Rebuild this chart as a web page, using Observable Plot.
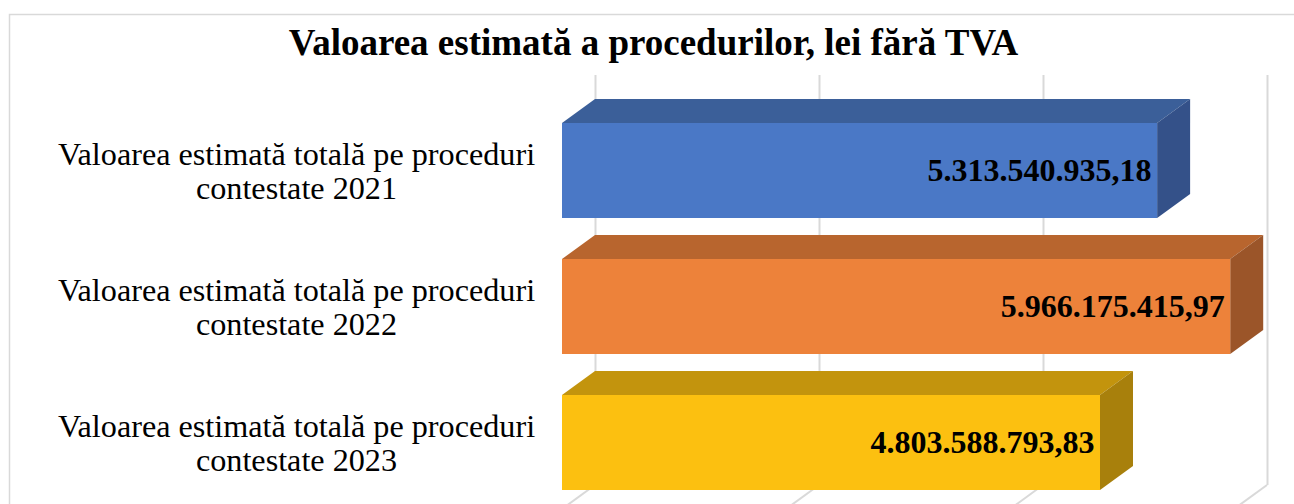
<!DOCTYPE html>
<html>
<head>
<meta charset="utf-8">
<script src="https://cdn.jsdelivr.net/npm/d3@7"></script>
<script src="https://cdn.jsdelivr.net/npm/@observablehq/plot@0.6"></script>
<style>
  html, body { margin: 0; padding: 0; background: #ffffff; }
  svg { display: block; }
</style>
</head>
<body>
<div id="chart"></div>
<script>
const title = "Valoarea estimată a procedurilor, lei fără TVA";
const categories = [
  "Valoarea estimată totală pe proceduri\ncontestate 2021",
  "Valoarea estimată totală pe proceduri\ncontestate 2022",
  "Valoarea estimată totală pe proceduri\ncontestate 2023"
];
const values = [5313540935.18, 5966175415.97, 4803588793.83];
const frontColors = ["#4a78c6", "#ed823a", "#fcc010"];
const topColors = ["#3b5f99", "#b8652e", "#c3940d"];
const sideColors = ["#345189", "#9b5529", "#a8800c"];
const gridTicks = [0, 2e9, 4e9, 6e9];

const data = categories.map((c, i) => ({
  label: c, value: values[i], front: frontColors[i], top: topColors[i], side: sideColors[i]
}));

const ro = d3.formatLocale({decimal: ",", thousands: ".", grouping: [3], currency: ["", ""]});
const fmt = ro.format(",.2f");

const DX = 33, DY = 24;
const font = "'Liberation Serif', 'Times New Roman', serif";

const yOptions = {domain: categories, range: [101.5, 511], paddingInner: 0.3, paddingOuter: 0.15, axis: null};
const yScaleObj = Plot.scale({y: {type: "band", ...yOptions}});

function getBandwidth(s) {
  const b = s && s.bandwidth;
  if (typeof b === "function") return b();
  if (typeof b === "number" && isFinite(b)) return b;
  const b2 = yScaleObj.bandwidth;
  return typeof b2 === "function" ? b2() : b2;
}

// floor diagonal grid lines + chart border
function floorAndBorder(index, scales, vals, dims) {
  const g = d3.create("svg:g");
  g.append("rect")
    .attr("x", 9.5).attr("y", 14.5)
    .attr("width", dims.width + 20).attr("height", dims.height + 20)
    .attr("fill", "none").attr("stroke", "#d9d9d9").attr("stroke-width", 1.5);
  const yb = dims.height - dims.marginBottom;
  for (const t of gridTicks) {
    const x = scales.x(t);
    g.append("line")
      .attr("x1", x + DX).attr("y1", yb)
      .attr("x2", x).attr("y2", yb + DY)
      .attr("stroke", "#d9d9d9").attr("stroke-width", 2);
  }
  return g.node();
}

// 3D faces (top and side) of each bar
function faces(index, scales, vals, dims) {
  const g = d3.create("svg:g");
  const bw = getBandwidth(scales.y);
  for (const d of data) {
    const x0 = scales.x(0), x1 = scales.x(d.value);
    const y0 = scales.y(d.label), y1 = y0 + bw;
    g.append("path")
      .attr("d", `M${x0},${y0}L${x0 + DX},${y0 - DY}L${x1 + DX},${y0 - DY}L${x1},${y0}Z`)
      .attr("fill", d.top);
    g.append("path")
      .attr("d", `M${x1},${y0}L${x1 + DX},${y0 - DY}L${x1 + DX},${y1 - DY}L${x1},${y1}Z`)
      .attr("fill", d.side);
  }
  return g.node();
}

const chart = Plot.plot({
  width: 1294,
  height: 504,
  marginLeft: 562,
  marginRight: 60,
  marginTop: 75,
  marginBottom: 19,
  style: {background: "#ffffff", overflow: "visible"},
  x: {domain: [0, 6e9], axis: null},
  y: yOptions,
  marks: [
    floorAndBorder,
    Plot.ruleX(gridTicks, {x: d => d, dx: DX, stroke: "#d9d9d9", strokeWidth: 2, strokeOpacity: 1}),
    faces,
    Plot.barX(data, {x: "value", y: "label", fill: d => d.front}),
    Plot.text(data, {
      x: "value", y: "label", text: d => fmt(d.value),
      textAnchor: "end", dx: -6, fontSize: 32, fontWeight: "bold",
      fontFamily: font, fill: "#000000"
    }),
    Plot.text(data, {
      y: "label", text: "label", frameAnchor: "left", dx: -266,
      textAnchor: "middle", lineAnchor: "middle", lineHeight: 1.05,
      fontSize: 32.2, fontFamily: font, fill: "#000000"
    }),
    Plot.text([title], {
      frameAnchor: "top-left", dx: 91, dy: -32, text: d => d,
      textAnchor: "middle", lineAnchor: "middle",
      fontSize: 37, fontWeight: "bold", fontFamily: font, fill: "#000000"
    })
  ]
});
document.getElementById("chart").appendChild(chart);
</script>
</body>
</html>
